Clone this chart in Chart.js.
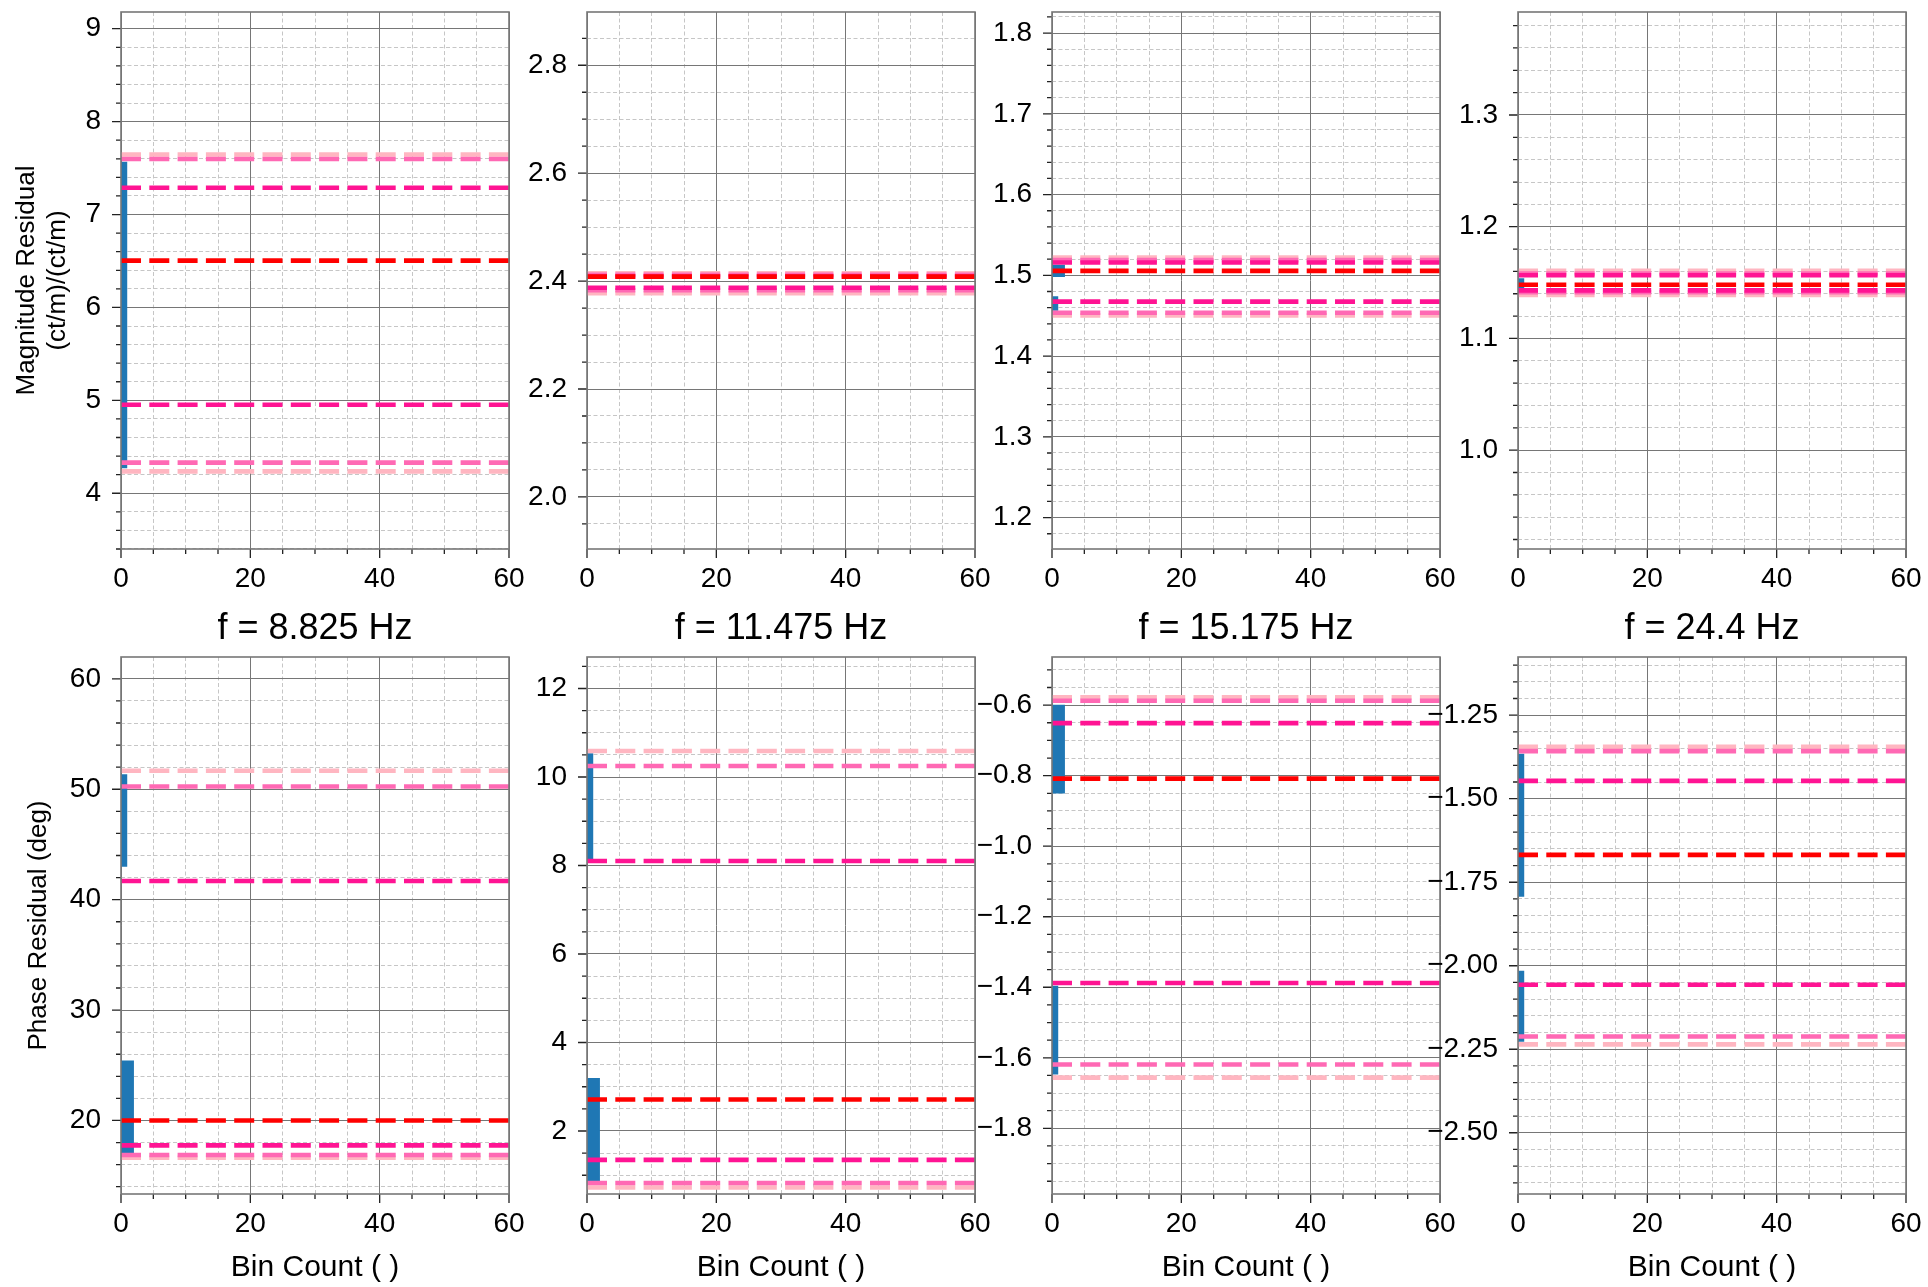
<!DOCTYPE html>
<html lang="en">
<head>
<meta charset="UTF-8">
<title>Residual histograms</title>
<script src="https://cdn.jsdelivr.net/npm/chart.js"></script>
<style>
    body {
        margin: 0;
        background: #fff;
        width: 1928px;
        height: 1287px;
        overflow: hidden;
        position: relative;
    }
    canvas { position: absolute; }
</style>
</head>
<body>
<script>
    // ---- data ----
    const FREQ_TITLES = ['f = 8.825 Hz', 'f = 11.475 Hz', 'f = 15.175 Hz', 'f = 24.4 Hz'];
    const X_MAX = 60;
    const X_TICKS = [20, 5];            // major, minor step of Bin Count

    // magnitude residual (top row)
    const magRange  = [[3.40, 9.18], [1.9035, 2.8987], [1.1611, 1.8261], [0.9115, 1.3922]];
    const magTicks  = [[1, 0.2, 0], [0.2, 0.05, 1], [0.1, 0.02, 1], [0.1, 0.02, 1]]; // major, minor, decimals
    const magMedian = [6.504, 2.4082, 1.5055, 1.1481];
    const magDeep   = [[7.288, 4.953], [2.4085, 2.3876], [1.5159, 1.4675], [1.1565, 1.1430]];
    const magHot    = [[7.597, 4.330], [2.4118, 2.3830], [1.5188, 1.4537], [1.1581, 1.1413]];
    const magLight  = [[7.647, 4.235], [2.4146, 2.3777], [1.5221, 1.4504], [1.1605, 1.1389]];
    const magBins   = [                 // [bin low, bin high, count]
        [[4.268, 7.568, 1]],
        [[2.4045, 2.4065, 1]],
        [[1.4979, 1.5131, 2], [1.4561, 1.4742, 1]],
        [[1.1447, 1.1539, 1]]
    ];

    // phase residual (bottom row)
    const phaseRange  = [[13.34, 61.98], [0.576, 12.712], [-1.9862, -0.4635], [-2.6834, -1.0757]];
    const phaseTicks  = [[10, 2, 0], [2, 0.5, 0], [0.2, 0.05, 1], [0.25, 0.05, 2]];
    const phaseMedian = [20.0, 2.712, -0.8085, -1.668];
    const phaseDeep   = [[41.69, 17.74], [8.103, 1.347], [-0.6509, -1.3880], [-1.4465, -2.0571]];
    const phaseHot    = [[50.25, 16.87], [10.249, 0.823], [-0.5876, -1.6189], [-1.3574, -2.2117]];
    const phaseLight  = [[51.675, 16.63], [10.586, 0.724], [-0.5777, -1.6561], [-1.3443, -2.2353]];
    const phaseBins   = [
        [[42.99, 51.36, 1], [17.03, 25.43, 2]],
        [[8.142, 10.536, 1], [0.862, 3.197, 2]],
        [[-0.8507, -0.5988, 2], [-1.6474, -1.3955, 1]],
        [[-1.7938, -1.3653, 1], [-2.2275, -2.0152, 1]]
    ];

    const Y_TITLES = [['Magnitude Residual', '(ct/m)/(ct/m)'], 'Phase Residual (deg)'];
    const X_TITLE = 'Bin Count ( )';

    // ---- layout ----
    const COL_LEFT = [121, 587, 1052, 1518];
    const ROW_TOP = [12, 657];
    const PLOT_W = 388, PLOT_H = 537;
    const AXIS_W = 121, RIGHT_PAD = 40, TITLE_H = 70;
    const FONT = '"Liberation Sans", Arial, Helvetica, sans-serif';

    const BAR_COLOR = '#1f77b4';
    const LINE_COLORS = { median: '#ff0000', deep: '#ff1493', hot: '#ff69b4', light: '#ffb6c1' };

    Chart.defaults.font.family = FONT;
    Chart.defaults.color = '#000';
    Chart.defaults.animation = false;

    function isMajor(v, step) {
        const r = v / step;
        return Math.abs(r - Math.round(r)) < 1e-6;
    }

    function fmt(v, dec) {
        return (v < -1e-9 ? '\u2212' : '') + Math.abs(v).toFixed(dec);
    }

    // outward tick marks + box frame around the plot area
    const frameTicks = {
        id: 'frameTicks',
        afterDraw(chart, args, opts) {
            const { ctx, chartArea: a, scales } = chart;
            ctx.save();
            ctx.strokeStyle = '#222';
            ctx.lineWidth = 1.3;
            ctx.beginPath();
            scales.x.ticks.forEach(t => {
                const p = scales.x.getPixelForValue(t.value);
                const len = isMajor(t.value, opts.xMajor) ? 9 : 5;
                ctx.moveTo(p, a.bottom);
                ctx.lineTo(p, a.bottom + len);
            });
            scales.y.ticks.forEach(t => {
                const p = scales.y.getPixelForValue(t.value);
                const len = isMajor(t.value, opts.yMajor) ? 9 : 5;
                ctx.moveTo(a.left, p);
                ctx.lineTo(a.left - len, p);
            });
            ctx.stroke();
            ctx.strokeStyle = '#777';
            ctx.lineWidth = 1.6;
            ctx.strokeRect(a.left, a.top, a.right - a.left, a.bottom - a.top);
            ctx.restore();
        }
    };

    function hline(y, color) {
        return {
            data: [{ x: 0, y: y }, { x: X_MAX, y: y }],
            borderColor: color,
            borderWidth: 4.6,
            borderDash: [20, 8.3],
            pointRadius: 0,
            fill: false
        };
    }

    function bin(b) {
        return {
            data: [{ x: 0, y: b[1] }, { x: b[2], y: b[1] }],
            borderWidth: 0,
            borderColor: BAR_COLOR,
            backgroundColor: BAR_COLOR,
            pointRadius: 0,
            fill: { value: b[0] }
        };
    }

    function gridOpts(step) {
        return {
            color: c => (c.tick && isMajor(c.tick.value, step)) ? '#767676' : '#c6c6c6',
            lineWidth: 1,
            drawTicks: false
        };
    }

    function borderOpts(step) {
        return {
            display: false,
            dash: c => (c.tick && !isMajor(c.tick.value, step)) ? [4, 2.5] : []
        };
    }

    function pinPadding(scale) {
        scale.paddingTop = 0;
        scale.paddingBottom = 0;
        scale.paddingLeft = 0;
        scale.paddingRight = 0;
    }

    function panel(row, col) {
        const isTop = row === 0;
        const range = isTop ? magRange[col] : phaseRange[col];
        const tk = isTop ? magTicks[col] : phaseTicks[col];
        const median = isTop ? magMedian[col] : phaseMedian[col];
        const deep = isTop ? magDeep[col] : phaseDeep[col];
        const hot = isTop ? magHot[col] : phaseHot[col];
        const light = isTop ? magLight[col] : phaseLight[col];
        const bins = isTop ? magBins[col] : phaseBins[col];

        // first dataset is drawn on top
        const datasets = [
            hline(median, LINE_COLORS.median),
            hline(deep[0], LINE_COLORS.deep), hline(deep[1], LINE_COLORS.deep),
            hline(hot[0], LINE_COLORS.hot), hline(hot[1], LINE_COLORS.hot),
            hline(light[0], LINE_COLORS.light), hline(light[1], LINE_COLORS.light)
        ].concat(bins.map(bin));

        const xAxisH = isTop ? 60 : 93;
        const padTop = isTop ? ROW_TOP[0] : 0;
        const canvas = document.createElement('canvas');
        canvas.width = AXIS_W + PLOT_W + RIGHT_PAD;
        canvas.height = (isTop ? padTop : TITLE_H) + PLOT_H + xAxisH;
        canvas.style.left = (COL_LEFT[col] - AXIS_W) + 'px';
        canvas.style.top = (isTop ? 0 : ROW_TOP[1] - TITLE_H) + 'px';
        document.body.appendChild(canvas);

        const yTitle = {
            display: col === 0,
            text: isTop ? Y_TITLES[0] : Y_TITLES[1],
            font: { size: 26, lineHeight: 1.2 },
            padding: { top: isTop ? 11 : 23.5, bottom: 0 }
        };

        new Chart(canvas, {
            type: 'line',
            data: { datasets: datasets },
            options: {
                responsive: false,
                devicePixelRatio: 1,
                layout: { padding: { top: padTop, right: RIGHT_PAD, bottom: 0, left: 0 } },
                plugins: {
                    legend: { display: false },
                    tooltip: { enabled: false },
                    title: {
                        display: !isTop,
                        text: FREQ_TITLES[col],
                        fullSize: false,
                        font: { size: 36, weight: 'normal', lineHeight: 1.2 },
                        padding: { top: 20.4, bottom: 6.4 }
                    },
                    frameTicks: { xMajor: X_TICKS[0], yMajor: tk[0] }
                },
                scales: {
                    x: {
                        type: 'linear',
                        min: 0,
                        max: X_MAX,
                        grid: gridOpts(X_TICKS[0]),
                        border: borderOpts(X_TICKS[0]),
                        ticks: {
                            stepSize: X_TICKS[1],
                            includeBounds: false,
                            autoSkip: false,
                            maxRotation: 0,
                            padding: 13.5,
                            font: { size: 28 },
                            callback: v => isMajor(v, X_TICKS[0]) ? fmt(v, 0) : ''
                        },
                        title: {
                            display: !isTop,
                            text: X_TITLE,
                            font: { size: 30, lineHeight: 1.2 },
                            padding: { top: 0, bottom: 1 }
                        },
                        afterFit: s => { s.height = xAxisH; pinPadding(s); }
                    },
                    y: {
                        type: 'linear',
                        min: range[0],
                        max: range[1],
                        grid: gridOpts(tk[0]),
                        border: borderOpts(tk[0]),
                        ticks: {
                            stepSize: tk[1],
                            includeBounds: false,
                            autoSkip: false,
                            padding: 20,
                            font: { size: 28 },
                            callback: v => isMajor(v, tk[0]) ? fmt(v, tk[2]) : ''
                        },
                        title: yTitle,
                        afterFit: s => { s.width = AXIS_W; pinPadding(s); }
                    }
                }
            },
            plugins: [frameTicks]
        });
    }

    for (let row = 0; row < 2; row++) {
        for (let col = 0; col < 4; col++) {
            panel(row, col);
        }
    }
</script>
</body>
</html>
